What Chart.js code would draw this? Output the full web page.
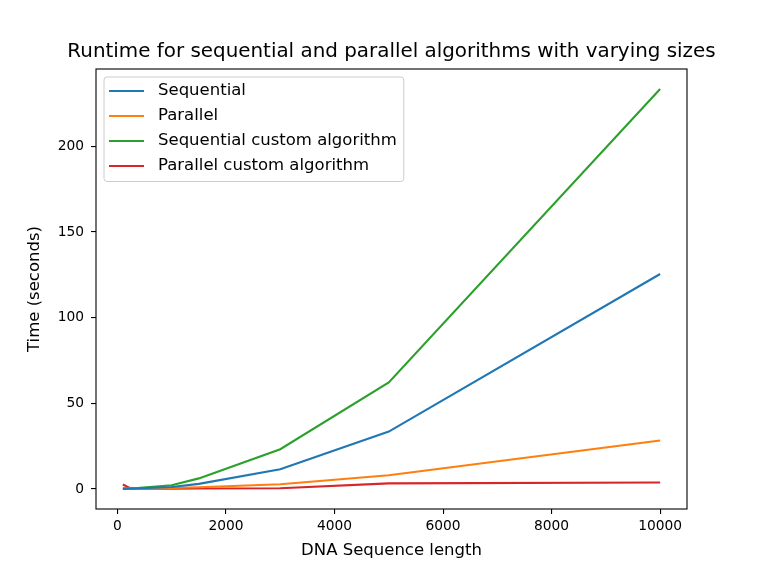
<!DOCTYPE html>
<html>
<head>
<meta charset="utf-8">
<title>Runtime chart</title>
<script src="https://cdn.jsdelivr.net/npm/chart.js@4"></script>
<style>
  html, body { margin: 0; padding: 0; background: #fff; }
  #wrap { width: 764px; height: 573px; }
</style>
</head>
<body>
<div id="wrap"><canvas id="runtimeChart" width="764" height="573"></canvas></div>
<script>
// sizes of the DNA sequence that were timed
var lengths = [100, 250, 1000, 1500, 3000, 5000, 10000];

// runtimes in seconds
var sequential = [0.1, 0.2, 1.2, 3.0, 11.5, 33.5, 125.5];
var parallel = [0.3, 0.2, 0.6, 1.0, 2.8, 8.0, 28.3];
var sequentialCustom = [0.4, 0.3, 2.2, 6.2, 23.2, 62.2, 233.5];
var parallelCustom = [2.6, 0.2, 0.2, 0.3, 0.4, 3.3, 3.8];

var seriesNames = ['Sequential', 'Parallel', 'Sequential custom algorithm', 'Parallel custom algorithm'];
var seriesColors = ['#1f77b4', '#ff7f0e', '#2ca02c', '#d62728'];

var xTicks = [0, 2000, 4000, 6000, 8000, 10000];
var yTicks = [0, 50, 100, 150, 200];

var chartTitle = 'Runtime for sequential and parallel algorithms with varying sizes';
var FONT = 'DejaVu Sans';

function points(values) {
  return values.map(function (v, i) { return { x: lengths[i], y: v }; });
}

var allSeries = [sequential, parallel, sequentialCustom, parallelCustom];
var datasets = allSeries.map(function (values, i) {
  return {
    label: seriesNames[i],
    data: points(values),
    borderColor: seriesColors[i],
    backgroundColor: seriesColors[i],
    borderWidth: 2.1,
    pointRadius: 0,
    tension: 0,
    fill: false
  };
});

// matplotlib style: 5% margin around data
var xMin = Math.min.apply(null, lengths), xMax = Math.max.apply(null, lengths);
var yAll = [].concat.apply([], allSeries);
var yMin = Math.min(0, Math.min.apply(null, yAll)), yMax = Math.max.apply(null, yAll);
var xPad = (xMax - xMin) * 0.05, yPad = (yMax - yMin) * 0.05;

// full box around the plot area, like matplotlib spines
var framePlugin = {
  id: 'frame',
  afterDatasetsDraw: function (chart) {
    var a = chart.chartArea, ctx = chart.ctx;
    ctx.save();
    ctx.strokeStyle = '#000';
    ctx.lineWidth = 1.1;
    ctx.strokeRect(a.left, a.top, a.right - a.left, a.bottom - a.top);
    ctx.restore();
  }
};

// title centred over the plot area (not the whole canvas)
var axesTitlePlugin = {
  id: 'axesTitle',
  afterDraw: function (chart) {
    var a = chart.chartArea, ctx = chart.ctx;
    ctx.save();
    ctx.font = '19.9px "' + FONT + '"';
    ctx.fillStyle = '#000';
    ctx.textAlign = 'center';
    ctx.textBaseline = 'middle';
    ctx.fillText(chartTitle, (a.left + a.right) / 2, a.top - 17);
    ctx.restore();
  }
};

// legend box in the upper left corner of the plot
var legendPlugin = {
  id: 'boxLegend',
  afterDraw: function (chart) {
    var a = chart.chartArea, ctx = chart.ctx;
    var sets = chart.data.datasets;
    ctx.save();
    ctx.font = '16.5px "' + FONT + '"';
    var textW = 0;
    sets.forEach(function (d) { textW = Math.max(textW, ctx.measureText(d.label).width); });
    var x0 = a.left + 8, y0 = a.top + 8;
    var w = 54 + textW + 7, h = 104.5, r = 3;
    ctx.beginPath();
    ctx.moveTo(x0 + r, y0);
    ctx.arcTo(x0 + w, y0, x0 + w, y0 + h, r);
    ctx.arcTo(x0 + w, y0 + h, x0, y0 + h, r);
    ctx.arcTo(x0, y0 + h, x0, y0, r);
    ctx.arcTo(x0, y0, x0 + w, y0, r);
    ctx.closePath();
    ctx.fillStyle = 'rgba(255,255,255,0.8)';
    ctx.fill();
    ctx.strokeStyle = '#cccccc';
    ctx.lineWidth = 1;
    ctx.stroke();
    sets.forEach(function (d, i) {
      var y = y0 + 14 + i * 25;
      ctx.strokeStyle = d.borderColor;
      ctx.lineWidth = 2.1;
      ctx.beginPath();
      ctx.moveTo(x0 + 5, y);
      ctx.lineTo(x0 + 40, y);
      ctx.stroke();
      ctx.fillStyle = '#000';
      ctx.textBaseline = 'middle';
      ctx.textAlign = 'left';
      ctx.fillText(d.label, x0 + 54, y);
    });
    ctx.restore();
  }
};

var ctx = document.getElementById('runtimeChart').getContext('2d');
var runtimeChart = new Chart(ctx, {
  type: 'line',
  data: { datasets: datasets },
  options: {
    responsive: false,
    animation: false,
    devicePixelRatio: 1,
    layout: { padding: { top: 69, right: 77, bottom: 0, left: 0 } },
    plugins: {
      legend: { display: false },
      tooltip: { enabled: false },
      title: { display: false }
    },
    scales: {
      x: {
        type: 'linear',
        min: xMin - xPad,
        max: xMax + xPad,
        afterBuildTicks: function (s) { s.ticks = xTicks.map(function (v) { return { value: v }; }); },
        afterFit: function (s) { s.height = 64; },
        border: { display: false },
        grid: { drawOnChartArea: false, drawTicks: true, tickLength: 5, color: '#000', lineWidth: 1.1 },
        ticks: {
          color: '#000',
          padding: 4,
          maxRotation: 0,
          font: { family: FONT, size: 13.8 },
          callback: function (v) { return String(v); }
        },
        title: {
          display: true,
          text: 'DNA Sequence length',
          color: '#000',
          font: { family: FONT, size: 16.5, lineHeight: 1.2 },
          padding: { top: 0, bottom: 12 }
        }
      },
      y: {
        type: 'linear',
        min: yMin - yPad,
        max: yMax + yPad,
        afterBuildTicks: function (s) { s.ticks = yTicks.map(function (v) { return { value: v }; }); },
        afterFit: function (s) { s.width = 96; },
        border: { display: false },
        grid: { drawOnChartArea: false, drawTicks: true, tickLength: 5, color: '#000', lineWidth: 1.1 },
        ticks: {
          color: '#000',
          padding: 7,
          font: { family: FONT, size: 13.8 },
          callback: function (v) { return String(v); }
        },
        title: {
          display: true,
          text: 'Time (seconds)',
          color: '#000',
          font: { family: FONT, size: 16.5, lineHeight: 1.2 },
          padding: { top: 24.5, bottom: 0 }
        }
      }
    }
  },
  plugins: [framePlugin, axesTitlePlugin, legendPlugin]
});
</script>
</body>
</html>
